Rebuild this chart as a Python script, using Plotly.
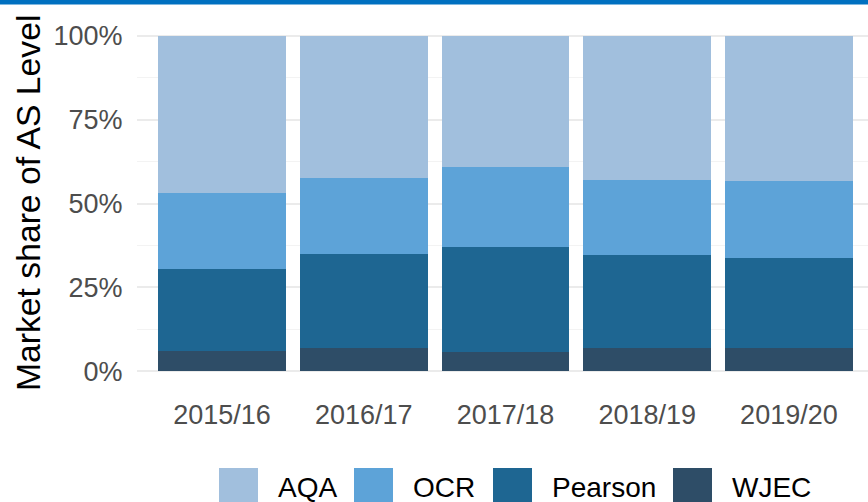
import plotly.graph_objects as go

years = ["2015/16", "2016/17", "2017/18", "2018/19", "2019/20"]
boards = ["WJEC", "Pearson", "OCR", "AQA"]  # bottom to top
wjec = [6.0, 6.8, 5.7, 6.8, 6.8]
pearson = [24.4, 28.0, 31.2, 27.9, 27.1]
ocr = [22.8, 22.9, 24.1, 22.4, 22.9]
aqa = [46.8, 42.3, 39.0, 42.9, 43.2]
series = {"WJEC": wjec, "Pearson": pearson, "OCR": ocr, "AQA": aqa}
colors = {"AQA": "#A1BFDD", "OCR": "#5DA3D8", "Pearson": "#1E6692", "WJEC": "#2E4D67"}
y_ticks = [0, 25, 50, 75, 100]
y_tick_labels = ["0%", "25%", "50%", "75%", "100%"]
legend_order = ["AQA", "OCR", "Pearson", "WJEC"]

W, H = 868, 502
ML, MR, MT, MB = 137, 0, 19, 114
pw, ph = W - ML - MR, H - MT - MB

def px_x(p):
    return (p - ML) / pw

def px_y(p):
    return (H - MB - p) / ph

font = "Liberation Sans, Arial, sans-serif"

fig = go.Figure()
for b in boards:
    fig.add_trace(go.Bar(x=years, y=series[b], name=b, marker=dict(color=colors[b], line=dict(width=0)),
                         showlegend=False, hoverinfo="skip"))

shapes = []
annotations = []
# top blue band
shapes.append(dict(type="rect", xref="paper", yref="paper", x0=px_x(0), x1=1, y0=px_y(4.5), y1=px_y(-2),
                   fillcolor="#0070C0", line=dict(width=0), layer="above"))
# custom legend
key_left = [219, 354, 493, 673]
for name, kx in zip(legend_order, key_left):
    shapes.append(dict(type="rect", xref="paper", yref="paper", x0=px_x(kx), x1=px_x(kx + 39),
                       y0=px_y(507), y1=px_y(468), fillcolor=colors[name], line=dict(width=0)))
    annotations.append(dict(text=name, xref="paper", yref="paper", x=px_x(kx + 57), y=px_y(487),
                            xanchor="left", yanchor="middle", showarrow=False,
                            font=dict(family=font, size=28, color="black")))
# y axis title
annotations.append(dict(text="Market share of AS Level", xref="paper", yref="paper", x=px_x(28), y=px_y(203),
                        xanchor="center", yanchor="middle", textangle=-90, showarrow=False,
                        font=dict(family=font, size=33.7, color="black")))

fig.update_layout(
    width=W, height=H, margin=dict(l=ML, r=MR, t=MT, b=MB, pad=0),
    barmode="stack", bargap=0.1,
    plot_bgcolor="white", paper_bgcolor="white",
    font=dict(family=font),
    showlegend=False,
    shapes=shapes, annotations=annotations,
    xaxis=dict(range=[-0.6, 4.558], showgrid=False, zeroline=False, showline=False,
               ticks="outside", ticklen=3, tickcolor="rgba(0,0,0,0)",
               tickfont=dict(family=font, size=27, color="#4D4D4D")),
    yaxis=dict(range=[-5, 105], tickvals=y_ticks, ticktext=y_tick_labels,
               showgrid=True, gridcolor="#EBEBEB", gridwidth=2, zeroline=False, showline=False,
               ticks="outside", ticklen=8, tickcolor="rgba(0,0,0,0)",
               tickfont=dict(family=font, size=27, color="#4D4D4D"),
               minor=dict(dtick=12.5, tick0=0, showgrid=True, gridcolor="#F3F3F3", gridwidth=1.2)),
)
fig.write_html("out.html", config={"displayModeBar": False},
               post_script="document.body.style.margin='0';document.body.style.overflow='hidden';")
